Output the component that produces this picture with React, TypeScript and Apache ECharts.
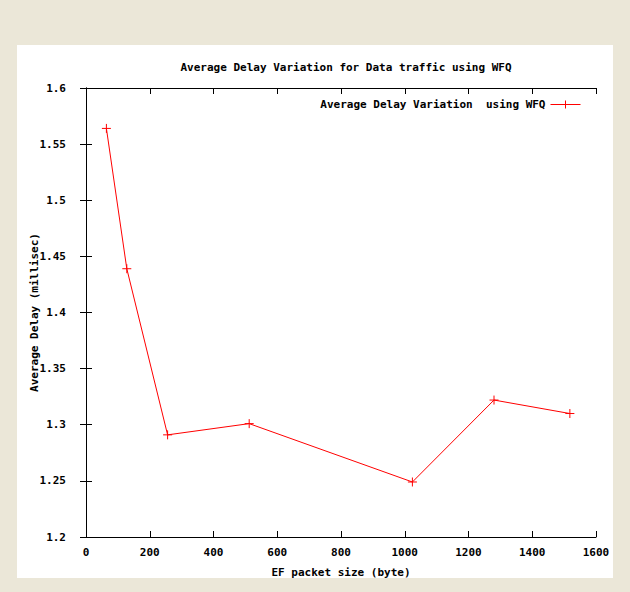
import React, { useEffect, useRef } from "react";
import * as echarts from "echarts";

const packetSizes = [64, 128, 256, 512, 1024, 1280, 1518];
const delayVariation = [1.564, 1.439, 1.291, 1.301, 1.249, 1.322, 1.31];
const seriesName = "Average Delay Variation  using WFQ";
const titleText = "Average Delay Variation for Data traffic using WFQ";
const xName = "EF packet size (byte)";
const yName = "Average Delay (millisec)";

const FONT = "'DejaVu Sans Mono', 'Liberation Mono', monospace";
const PLUS = "path://M0,5L10,5M5,0L5,10";

export default function App() {
  const ref = useRef<HTMLDivElement>(null);
  useEffect(() => {
    if (!ref.current) return;
    const chart = echarts.init(ref.current, undefined, { renderer: "svg" });
    const axisLine = { lineStyle: { color: "#000", width: 1 } };
    const tick = { inside: true, length: 6, lineStyle: { color: "#000" } };
    chart.setOption({
      animation: false,
      backgroundColor: "#ebe7d8",
      graphic: [
        {
          type: "rect",
          shape: { x: 17, y: 45, width: 596, height: 533 },
          style: { fill: "#ffffff" },
          z: -10,
        },
      ],
      title: {
        text: titleText,
        left: 341,
        top: 57,
        textAlign: "center",
        textStyle: { fontFamily: FONT, fontSize: 11, fontWeight: "bold", color: "#000" },
      },
      legend: {
        data: [seriesName],
        right: 44,
        top: 94,
        align: "right",
        itemWidth: 30,
        itemHeight: 10,
        itemGap: 6,
        itemStyle: { borderWidth: 1 },
        lineStyle: { width: 1 },
        textStyle: { fontFamily: FONT, fontSize: 11, fontWeight: "bold", color: "#000" },
      },
      grid: { left: 86, right: 34, top: 88, bottom: 55, show: false },
      xAxis: [
        {
          type: "value",
          min: 0,
          max: 1600,
          interval: 200,
          name: xName,
          nameLocation: "middle",
          nameGap: 30,
          nameTextStyle: { fontFamily: FONT, fontSize: 11, fontWeight: "bold", color: "#000" },
          axisLine,
          axisTick: tick,
          splitLine: { show: false },
          axisLabel: {
            fontFamily: FONT,
            fontSize: 11,
            fontWeight: "bold",
            color: "#000",
            margin: 10,
            formatter: (v: number) => String(v),
          },
        },
        {
          type: "value",
          position: "top",
          min: 0,
          max: 1600,
          interval: 200,
          axisLine,
          axisTick: tick,
          splitLine: { show: false },
          axisLabel: { show: false },
        },
      ],
      yAxis: [
        {
          type: "value",
          min: 1.2,
          max: 1.6,
          interval: 0.05,
          name: yName,
          nameLocation: "middle",
          nameGap: 46,
          nameMoveOverlap: false,
          nameTextStyle: { fontFamily: FONT, fontSize: 11, fontWeight: "bold", color: "#000" },
          axisLine: { show: true, ...axisLine },
          axisTick: tick,
          splitLine: { show: false },
          axisLabel: {
            fontFamily: FONT,
            fontSize: 11,
            fontWeight: "bold",
            color: "#000",
            margin: 20,
            formatter: (v: number) => String(Math.round(v * 100) / 100),
          },
        },
        {
          type: "value",
          position: "right",
          min: 1.2,
          max: 1.6,
          interval: 0.05,
          axisLine: { show: true, ...axisLine },
          axisTick: tick,
          splitLine: { show: false },
          axisLabel: { show: false },
        },
      ],
      series: [
        {
          name: seriesName,
          type: "line",
          data: packetSizes.map((x, i) => [x, delayVariation[i]]),
          symbol: PLUS,
          symbolSize: 9,
          showSymbol: true,
          lineStyle: { color: "#ff0000", width: 1 },
          itemStyle: { color: "#ff0000", borderColor: "#ff0000", borderWidth: 1 },
        },
      ],
    });
    return () => chart.dispose();
  }, []);
  return (
    <div
      ref={ref}
      style={{ position: "fixed", left: 0, top: 0, width: 630, height: 592 }}
    />
  );
}
